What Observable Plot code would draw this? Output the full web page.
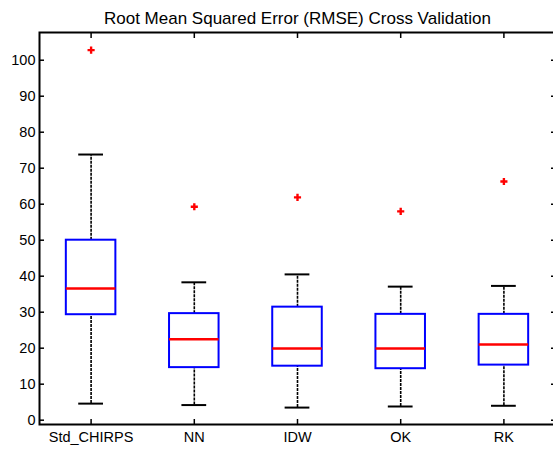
<!DOCTYPE html>
<html>
<head>
<meta charset="utf-8">
<script src="https://cdn.jsdelivr.net/npm/d3@7"></script>
<script src="https://cdn.jsdelivr.net/npm/@observablehq/plot@0.6"></script>
<style>
  html, body { margin: 0; padding: 0; background: #fff; }
</style>
</head>
<body>
<div id="chart"></div>
<script>
const title = "Root Mean Squared Error (RMSE) Cross Validation";
const categories = ["Std_CHIRPS", "NN", "IDW", "OK", "RK"];
const lowerWhisker = [4.6, 4.2, 3.5, 3.8, 4.0];
const q1 = [29.3, 14.6, 15.0, 14.3, 15.3];
const median = [36.6, 22.5, 19.9, 19.9, 21.0];
const q3 = [50.0, 29.6, 31.4, 29.4, 29.4];
const upperWhisker = [73.8, 38.3, 40.5, 37.1, 37.3];
const outliers = [102.8, 59.3, 61.9, 58.0, 66.3];
const yTicks = [0, 10, 20, 30, 40, 50, 60, 70, 80, 90, 100];
const xTicks = [1, 2, 3, 4, 5];

const rows = categories.map((c, i) => ({
  name: c, pos: i + 1,
  lw: lowerWhisker[i], q1: q1[i], med: median[i], q3: q3[i], uw: upperWhisker[i], out: outliers[i]
}));

const boxHalf = 0.24;
const capHalf = 0.12;
const font = "Liberation Sans, Arial, Helvetica, sans-serif";

const chart = Plot.plot({
  width: 553,
  height: 452,
  marginLeft: 39,
  marginRight: -2,
  marginTop: 32,
  marginBottom: 28,
  style: { fontFamily: font, fontSize: "14.5px", background: "#fff", color: "#000", overflow: "visible" },
  x: { type: "linear", domain: [0.5, 5.5], axis: null, label: null },
  y: { domain: [-1.2, 107.7], axis: null, label: null },
  marks: [
    // whiskers (dashed)
    Plot.ruleX(rows, { x: "pos", y1: "lw", y2: "q1", stroke: "#000", strokeWidth: 1.6, strokeDasharray: "3,1" }),
    Plot.ruleX(rows, { x: "pos", y1: "q3", y2: "uw", stroke: "#000", strokeWidth: 1.6, strokeDasharray: "3,1" }),
    // whisker caps
    Plot.ruleY(rows, { y: "lw", x1: d => d.pos - capHalf, x2: d => d.pos + capHalf, stroke: "#000", strokeWidth: 2 }),
    Plot.ruleY(rows, { y: "uw", x1: d => d.pos - capHalf, x2: d => d.pos + capHalf, stroke: "#000", strokeWidth: 2 }),
    // boxes
    Plot.rect(rows, { x1: d => d.pos - boxHalf, x2: d => d.pos + boxHalf, y1: "q1", y2: "q3", fill: "none", stroke: "#0000ff", strokeWidth: 2 }),
    // medians
    Plot.ruleY(rows, { y: "med", x1: d => d.pos - boxHalf, x2: d => d.pos + boxHalf, stroke: "#ff0000", strokeWidth: 2.5 }),
    // outliers
    Plot.dot(rows, { x: "pos", y: "out", symbol: "cross", fill: "#ff0000", stroke: "none", r: 3 }),
    // frame
    Plot.frame({ stroke: "#000", strokeWidth: 2 }),
    // inward ticks
    Plot.axisY(yTicks, { anchor: "left", label: null, tickSize: -5, tickFormat: () => "", strokeWidth: 1.5 }),
    Plot.axisY(yTicks, { anchor: "right", label: null, tickSize: -5, tickFormat: () => "", strokeWidth: 1.5 }),
    Plot.axisX(xTicks, { anchor: "bottom", label: null, tickSize: -5, tickFormat: () => "", strokeWidth: 1.5 }),
    Plot.axisX(xTicks, { anchor: "top", label: null, tickSize: -5, tickFormat: () => "", strokeWidth: 1.5 }),
    // tick labels
    Plot.axisY(yTicks, { anchor: "left", label: null, tickSize: 0, tickPadding: 4, tickFormat: d => String(d), fontSize: 14.5, fill: "#000" }),
    Plot.axisX(xTicks, { anchor: "bottom", label: null, tickSize: 0, tickPadding: 7, tickFormat: d => categories[d - 1], fontSize: 14.5, fill: "#000" }),
    // title
    Plot.text([title], { text: d => d, frameAnchor: "top", dy: -21, fontSize: 17, fill: "#000" })
  ]
});
document.getElementById("chart").appendChild(chart);
</script>
</body>
</html>
